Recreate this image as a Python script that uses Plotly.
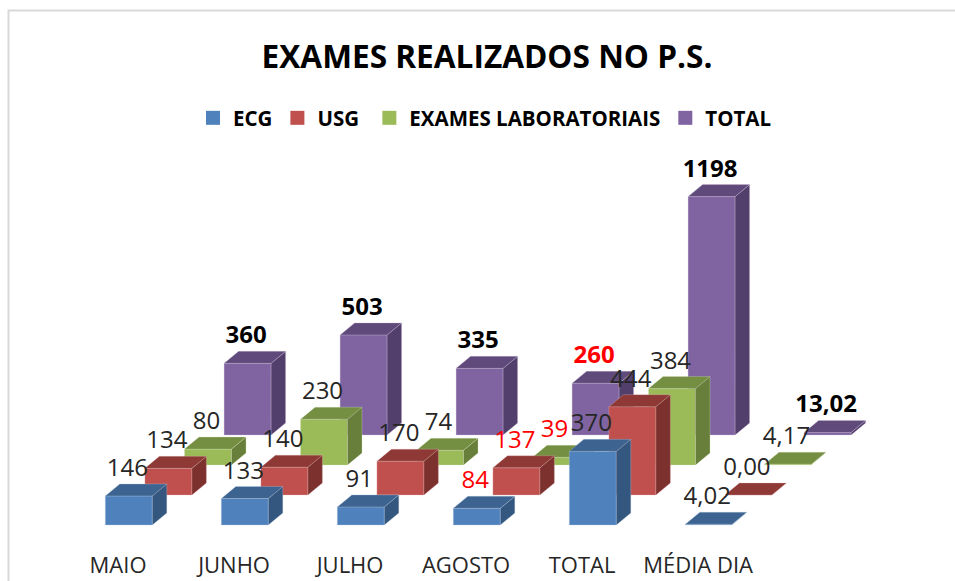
import plotly.graph_objects as go

categories = ["MAIO", "JUNHO", "JULHO", "AGOSTO", "TOTAL", "MÉDIA DIA"]
series_names = ["ECG", "USG\u00a0", "EXAMES LABORATORIAIS", "TOTAL"]
ecg = [146, 133, 91, 84, 370, 4.02]
usg = [134, 140, 170, 137, 444, 0.00]
labs = [80, 230, 74, 39, 384, 4.17]
total = [360, 503, 335, 260, 1198, 13.02]
labels_ecg = ["146", "133", "91", "84", "370", "4,02"]
labels_usg = ["134", "140", "170", "137", "444", "0,00"]
labels_labs = ["80", "230", "74", "39", "384", "4,17"]
labels_total = ["360", "503", "335", "260", "1198", "13,02"]
red_ecg = [3]
red_usg = [3]
red_labs = [3]
red_total = [3]

series = [ecg, usg, labs, total]
labels = [labels_ecg, labels_usg, labels_labs, labels_total]
reds = [red_ecg, red_usg, red_labs, red_total]
front = ["#4F81BD", "#C0504D", "#9BBB59", "#8064A2"]
top = ["#3D6490", "#8F3936", "#748E42", "#604A7B"]
side = ["#34577F", "#7D312F", "#677F3A", "#533F6C"]
edge = ["rgba(185,205,229,0.3)", "rgba(230,185,184,0.3)", "rgba(215,228,188,0.3)", "rgba(204,193,218,0.3)"]

W, H = 955, 581
M_B = 31
PX_CAT, PX_VAL = 116.0, 0.199
LEFT, BASE = 105.3, 525.0
plot_h = H - M_B
BAR_W = 47.0 / PX_CAT
DEPTH_X, DEPTH_Y = 14.5 / PX_CAT, 12.0 / PX_VAL
STEP_X, STEP_Y = 39.6 / PX_CAT, 30.0 / PX_VAL
LABEL_DY = 26.0 / PX_VAL
LABEL_DX = -1.5 / PX_CAT

fig = go.Figure()


def polygons(kind, s, vals):
    xs, ys = [], []
    for c, v in enumerate(vals):
        x0 = c + s * STEP_X
        x1 = x0 + BAR_W
        b = s * STEP_Y
        t = b + v
        if kind == "front":
            px, py = [x0, x1, x1, x0, x0], [b, b, t, t, b]
        elif kind == "side":
            px = [x1, x1 + DEPTH_X, x1 + DEPTH_X, x1, x1]
            py = [b, b + DEPTH_Y, t + DEPTH_Y, t, b]
        else:
            px = [x0, x1, x1 + DEPTH_X, x0 + DEPTH_X, x0]
            py = [t, t, t + DEPTH_Y, t + DEPTH_Y, t]
        xs += px + [None]
        ys += py + [None]
    return xs, ys


for s in range(3, -1, -1):
    for kind, cols in (("front", front), ("side", side), ("top", top)):
        xs, ys = polygons(kind, s, series[s])
        fig.add_trace(go.Scatter(
            x=xs, y=ys, mode="lines", fill="toself", fillcolor=cols[s],
            line=dict(color=edge[s], width=1), showlegend=False, hoverinfo="skip"))

for s in range(4):
    fig.add_trace(go.Scatter(
        x=[c + s * STEP_X + BAR_W / 2 + LABEL_DX for c in range(6)],
        y=[s * STEP_Y + v + LABEL_DY for v in series[s]],
        mode="text", text=labels[s], textposition="middle center", showlegend=False,
        textfont=dict(family="Open Sans", size=24,
                      weight=700 if s == 3 else 400,
                      color=["#FF0000" if i in reds[s] else ("#000000" if s == 3 else "#262626")
                             for i in range(6)]),
        hoverinfo="skip"))

for s in range(4):
    fig.add_trace(go.Scatter(
        x=[None], y=[None], mode="markers", name=series_names[s],
        marker=dict(symbol="square", size=14, color=front[s])))

fig.update_layout(
    width=W, height=H, margin=dict(l=0, r=0, t=0, b=M_B),
    paper_bgcolor="white", plot_bgcolor="white",
    title=dict(text="EXAMES REALIZADOS NO P.S.", x=487 / W, xanchor="center",
               y=1 - 57 / H, yanchor="middle", yref="container",
               font=dict(family="Open Sans", size=31.6, weight=700, color="#000000")),
    legend=dict(orientation="h", x=193 / W, xanchor="left", y=1 - 118 / plot_h, yanchor="middle",
                font=dict(family="Open Sans", size=20.5, weight=700, color="#000000"),
                bgcolor="rgba(0,0,0,0)"),
    xaxis=dict(range=[-LEFT / PX_CAT, (W - LEFT) / PX_CAT], showgrid=False, zeroline=False,
               showline=False, ticks="", tickmode="array",
               tickvals=[c + 0.11 for c in range(6)], ticktext=categories,
               tickfont=dict(family="Open Sans", size=22, color="#262626")),
    yaxis=dict(range=[-(plot_h - BASE) / PX_VAL, BASE / PX_VAL], showgrid=False, zeroline=False,
               showline=False, showticklabels=False, ticks=""),
    shapes=[dict(type="path", xref="paper", yref="paper",
                 path=f"M {8.5 / W},{-M_B / plot_h} L {8.5 / W},{1 - 10.5 / plot_h} L 1,{1 - 10.5 / plot_h}",
                 line=dict(color="#D9D9D9", width=2))],
)
fig.write_html("out.html", config=dict(displayModeBar=False),
               post_script="document.body.style.margin='0';document.body.style.overflow='hidden';")
